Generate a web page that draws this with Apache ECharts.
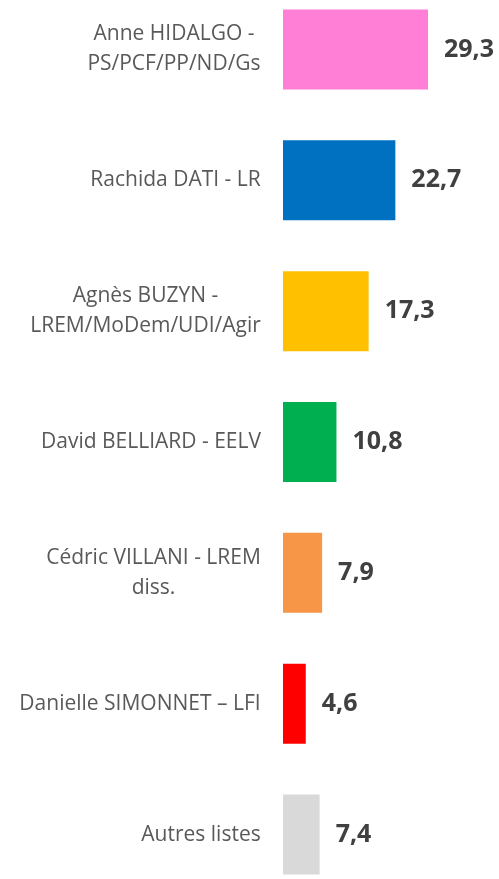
<!DOCTYPE html>
<html>
<head>
<meta charset="utf-8">
<script src="https://cdn.jsdelivr.net/npm/echarts@6/dist/echarts.min.js"></script>
<style>
  html, body { margin: 0; padding: 0; background: #fff; }
  #chart { width: 499px; height: 879px; }
</style>
</head>
<body>
<div id="chart"></div>
<script>
// categories top to bottom
const candidates = [
  "Anne HIDALGO -\nPS/PCF/PP/ND/Gs",
  "Rachida DATI - LR",
  "Agnès BUZYN -\nLREM/MoDem/UDI/Agir",
  "David BELLIARD - EELV",
  "Cédric VILLANI - LREM\ndiss.",
  "Danielle SIMONNET – LFI",
  "Autres listes"
]
const scores = [29.3, 22.7, 17.3, 10.8, 7.9, 4.6, 7.4]
const barColors = ["#ff7fd6", "#0070c0", "#ffc000", "#00b050", "#f79646", "#ff0000", "#d9d9d9"]

const labelFont = "21px 'Open Sans'"

let chart = echarts.init(document.getElementById("chart"))

// measure widest line of each label so lines can be centred inside the block
let ctx = document.createElement("canvas").getContext("2d")
ctx.font = labelFont
let rich = {}
candidates.forEach((c, i) => {
  let w = Math.max(...c.split("\n").map(l => ctx.measureText(l).width))
  rich["c" + i] = {
    width: Math.ceil(w),
    align: "center",
    fontFamily: "Open Sans",
    fontSize: 21,
    lineHeight: 30,
    color: "#595959"
  }
})

function labelFmt(val) {
  let i = candidates.indexOf(val)
  return val.split("\n").map(l => "{c" + i + "|" + l + "}").join("\n")
}

chart.setOption({
  animation: false,
  grid: {
    left: 283,
    width: 198,
    top: -16,
    height: 916,
    containLabel: false,
    outerBoundsMode: "none"
  },
  xAxis: {
    type: "value",
    min: 0,
    max: 40,
    show: false
  },
  yAxis: {
    type: "category",
    inverse: true,
    data: candidates,
    axisLine: {show: false},
    axisTick: {show: false},
    axisLabel: {
      margin: 22,
      formatter: labelFmt,
      rich: rich
    }
  },
  series: [{
    type: "bar",
    barWidth: 80,
    data: scores.map((v, i) => ({value: v, itemStyle: {color: barColors[i]}})),
    label: {
      show: true,
      position: "right",
      distance: 16,
      fontFamily: "Open Sans",
      fontWeight: "bold",
      fontSize: 25,
      color: "#404040",
      formatter: p => String(p.value).replace(".", ",")
    }
  }]
})
</script>
</body>
</html>
